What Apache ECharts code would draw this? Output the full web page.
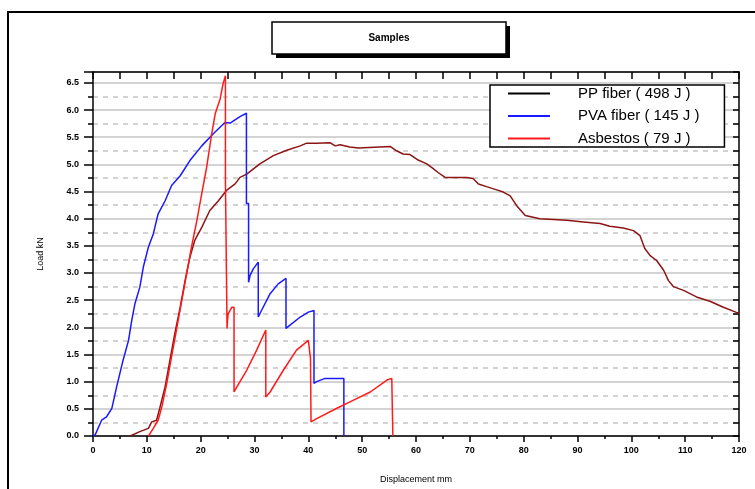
<!DOCTYPE html>
<html>
<head>
<meta charset="utf-8">
<script src="https://cdn.jsdelivr.net/npm/echarts@6/dist/echarts.min.js"></script>
<style>html,body{margin:0;padding:0;background:#fff;}#c{width:755px;height:489px;}</style>
</head>
<body>
<div id="c"></div>
<script>
const titleText = 'Samples';
const seriesNames = ['PP fiber ( 498 J )', 'PVA fiber ( 145 J )', 'Asbestos ( 79 J )'];
const xName = 'Displacement mm';
const yName = 'Load kN';

const ppFiber = [[6.9,0],[8.7,0.08],[10.3,0.14],[10.9,0.26],[11.8,0.29],[12.4,0.51],[13.4,0.91],[14.3,1.40],[15.2,1.89],[16.2,2.37],[17.1,2.86],[18.0,3.29],[18.9,3.60],[20.2,3.84],[21.7,4.15],[23.3,4.33],[24.8,4.52],[26.4,4.64],[27.3,4.76],[28.55,4.82],[31.0,5.01],[33.5,5.16],[36.0,5.26],[38.5,5.34],[39.7,5.39],[41.5,5.39],[44.0,5.40],[45.0,5.34],[45.9,5.36],[47.7,5.32],[49.3,5.30],[49.6,5.33],[55.2,5.33],[56.4,5.25],[57.6,5.19],[58.9,5.18],[60.4,5.08],[62.0,5.01],[63.2,4.92],[64.1,4.85],[65.4,4.76],[69.4,4.76],[70.6,4.74],[71.6,4.64],[73.1,4.59],[75.0,4.53],[76.2,4.49],[77.5,4.42],[78.7,4.24],[80.3,4.06],[83.0,4.0],[88.0,3.97],[91.1,3.94],[94.2,3.91],[96.0,3.86],[98.5,3.83],[100.4,3.78],[101.6,3.69],[102.5,3.45],[103.5,3.32],[104.7,3.23],[106.0,3.05],[106.9,2.86],[107.8,2.75],[109.7,2.68],[112.1,2.56],[114.6,2.48],[117.1,2.37],[119.4,2.28],[120,2.26]];

const pvaFiber = [[0,0],[0.4,0.02],[1.6,0.29],[2.5,0.35],[3.5,0.51],[4.4,0.91],[5.6,1.40],[6.6,1.76],[7.2,2.13],[7.8,2.44],[8.7,2.74],[9.35,3.11],[10.3,3.48],[11.2,3.72],[12.1,4.09],[13.4,4.33],[14.6,4.61],[16.2,4.79],[18.0,5.07],[20.2,5.34],[22.3,5.56],[24.5,5.77],[25.5,5.76],[26.1,5.80],[27.3,5.88],[28.5,5.94],[28.5,4.28],[28.9,4.28],[28.9,2.83],[29.2,2.96],[29.8,3.08],[30.7,3.2],[30.7,2.19],[31.3,2.31],[32.9,2.62],[34.4,2.80],[35.85,2.90],[35.85,1.98],[36.6,2.04],[38.5,2.19],[40.0,2.28],[41.05,2.31],[41.05,0.97],[41.55,1.0],[43.1,1.06],[46.6,1.06],[46.6,0]];

const asbestos = [[10.3,0],[10.6,0.02],[11.2,0.14],[12.1,0.29],[12.8,0.54],[13.7,0.97],[14.6,1.46],[15.5,1.95],[16.5,2.50],[17.4,2.99],[18.3,3.48],[19.3,3.97],[20.2,4.46],[21.1,4.94],[22.05,5.56],[22.7,5.93],[23.6,6.2],[24.2,6.5],[24.6,6.63],[24.6,4.7],[24.9,4.7],[24.9,1.98],[25.0,2.13],[25.1,2.25],[25.8,2.37],[26.2,2.37],[26.2,0.81],[26.7,0.9],[28.55,1.21],[30.4,1.58],[32.1,1.95],[32.1,0.72],[32.9,0.81],[35.35,1.21],[37.8,1.58],[40.0,1.76],[40.2,1.78],[40.4,1.43],[40.5,0.26],[41.55,0.32],[45.3,0.51],[48.4,0.66],[51.5,0.81],[54.6,1.03],[55.5,1.06],[55.7,0]];

const chart = echarts.init(document.getElementById('c'), null, {renderer: 'canvas'});
const gridGray = '#c4c4c4';
const labelFont = {fontFamily: 'Liberation Sans, Arial, sans-serif', fontSize: 9, fontWeight: 'bold', color: '#000'};

const option = {
  animation: false,
  backgroundColor: '#fff',
  grid: {left: 93, right: 16, top: 72, bottom: 53, containLabel: false},
  graphic: [
    {type: 'rect', shape: {x: 8, y: 12, width: 780, height: 520}, style: {fill: 'none', stroke: '#000', lineWidth: 2}, z: 100},
    {type: 'rect', shape: {x: 276, y: 26, width: 234, height: 32}, style: {fill: '#000'}, z: 100},
    {type: 'rect', shape: {x: 272, y: 22, width: 234, height: 32}, style: {fill: '#fff', stroke: '#000', lineWidth: 1.5}, z: 101},
    {type: 'text', x: 389, y: 38, style: {text: titleText, fill: '#000', font: 'bold 10px "Liberation Sans", Arial, sans-serif', align: 'center', verticalAlign: 'middle'}, z: 102}
  ],
  legend: {
    orient: 'vertical',
    left: 490, top: 85,
    backgroundColor: '#fff',
    borderColor: '#000', borderWidth: 1.5,
    padding: [1, 25, 1, 18],
    itemGap: 7.5,
    itemWidth: 42, itemHeight: 2,
    textStyle: {fontFamily: 'Liberation Sans, Arial, sans-serif', fontSize: 15, color: '#000', lineHeight: 15, padding: [0, 0, 0, 23]},
    data: [
      {name: seriesNames[0], icon: 'rect', itemStyle: {color: '#000'}},
      {name: seriesNames[1], icon: 'rect', itemStyle: {color: '#1a1aff'}},
      {name: seriesNames[2], icon: 'rect', itemStyle: {color: '#ff1a1a'}}
    ],
    z: 50
  },
  xAxis: [
    {
      type: 'value', position: 'bottom', min: 0, max: 120, interval: 10,
      name: xName, nameLocation: 'middle', nameGap: 39,
      nameTextStyle: {fontFamily: 'Liberation Sans, Arial, sans-serif', fontSize: 9, color: '#000'},
      axisLine: {show: true, onZero: false, lineStyle: {color: '#000', width: 1.5}},
      axisTick: {show: true, inside: false, length: 6, lineStyle: {color: '#000', width: 1.5}},
      minorTick: {show: true, splitNumber: 2, length: 3, lineStyle: {color: '#000', width: 1.5}},
      axisLabel: Object.assign({margin: 10}, labelFont),
      splitLine: {show: false}
    },
    {
      type: 'value', position: 'top', min: 0, max: 120, interval: 5,
      axisLine: {show: true, onZero: false, lineStyle: {color: '#000', width: 1.5}},
      axisTick: {show: true, inside: true, length: 7, lineStyle: {color: '#000', width: 1.5}},
      axisLabel: {show: false},
      splitLine: {show: false}
    }
  ],
  yAxis: [
    {
      type: 'value', position: 'left', min: 0, max: 6.7, interval: 0.5,
      name: yName, nameLocation: 'middle', nameGap: 48, nameRotate: 90,
      nameTextStyle: {fontFamily: 'Liberation Sans, Arial, sans-serif', fontSize: 9, color: '#000'},
      axisLine: {show: true, onZero: false, lineStyle: {color: '#000', width: 1.5}},
      axisTick: {show: true, inside: false, length: 9, lineStyle: {color: '#000', width: 1.5}},
      axisLabel: Object.assign({margin: 14, formatter: function (v) {
        return Math.abs(v * 2 - Math.round(v * 2)) < 1e-6 ? v.toFixed(1) : '';
      }}, labelFont),
      splitLine: {show: true, lineStyle: {color: gridGray, width: 1.5, type: 'solid'}}
    },
    {
      type: 'value', position: 'left', min: 0, max: 6.7, interval: 0.25,
      axisLine: {show: false, onZero: false},
      axisTick: {show: true, inside: false, length: 5, lineStyle: {color: '#000', width: 1.5}},
      axisLabel: {show: false},
      splitLine: {show: true, lineStyle: {color: ['rgba(0,0,0,0)', gridGray], width: 1.5, type: [5, 5]}}
    },
    {
      type: 'value', position: 'right', min: 0, max: 6.7, interval: 0.25,
      axisLine: {show: true, onZero: false, lineStyle: {color: '#000', width: 1.5}},
      axisTick: {show: true, inside: true, length: 6, lineStyle: {color: '#000', width: 1.5}},
      axisLabel: {show: false},
      splitLine: {show: false}
    }
  ],
  series: [
    {name: seriesNames[0], type: 'line', data: ppFiber, showSymbol: false, symbol: 'none', lineStyle: {color: '#8c1414', width: 1.5}, itemStyle: {color: '#8c1414'}, z: 3},
    {name: seriesNames[1], type: 'line', data: pvaFiber, showSymbol: false, symbol: 'none', lineStyle: {color: '#1a1aff', width: 1.5}, itemStyle: {color: '#1a1aff'}, z: 4},
    {name: seriesNames[2], type: 'line', data: asbestos, showSymbol: false, symbol: 'none', lineStyle: {color: '#ff1a1a', width: 1.5}, itemStyle: {color: '#ff1a1a'}, z: 5}
  ]
};
chart.setOption(option);
</script>
</body>
</html>
